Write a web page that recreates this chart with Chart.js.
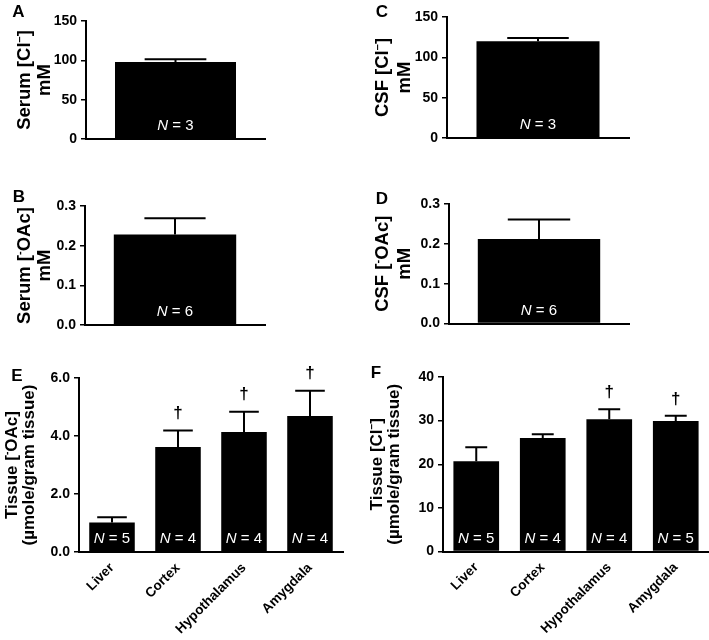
<!DOCTYPE html>
<html>
<head>
<meta charset="utf-8">
<script src="https://cdn.jsdelivr.net/npm/chart.js@4.4.0/dist/chart.umd.min.js"></script>
<style>
  body { margin: 0; background: #fff; }
  #wrap { position: relative; width: 709px; height: 640px; }
  canvas { position: absolute; }
</style>
</head>
<body>
<div id="wrap">
  <canvas id="cA" width="355" height="160" style="left:0;top:0"></canvas>
  <canvas id="cB" width="355" height="180" style="left:0;top:160px"></canvas>
  <canvas id="cC" width="354" height="160" style="left:355px;top:0"></canvas>
  <canvas id="cD" width="354" height="180" style="left:355px;top:160px"></canvas>
  <canvas id="cE" width="355" height="300" style="left:0;top:340px"></canvas>
  <canvas id="cF" width="354" height="300" style="left:355px;top:340px"></canvas>
</div>
<script>
// serum / csf (single bar each)
const serumCl = [98];      const serumClErr = [3.5];    const serumClN = [3];
const serumOAc = [0.228];  const serumOAcErr = [0.041]; const serumOAcN = [6];
const csfCl = [120];       const csfClErr = [4];        const csfClN = [3];
const csfOAc = [0.212];    const csfOAcErr = [0.049];   const csfOAcN = [6];

// tissues
const tissues = ['Liver', 'Cortex', 'Hypothalamus', 'Amygdala'];
const tissueOAc = [1.02, 3.62, 4.14, 4.69];
const tissueOAcErr = [0.18, 0.57, 0.70, 0.87];
const tissueOAcN = [5, 4, 4, 4];
const tissueOAcSig = [false, true, true, true];
const tissueCl = [20.7, 26.0, 30.3, 29.9];
const tissueClErr = [3.2, 0.9, 2.3, 1.2];
const tissueClN = [5, 4, 4, 5];
const tissueClSig = [false, false, true, true];

// tick labels
const ticksCl = ['0', '50', '100', '150'];
const ticksOAc = ['0.0', '0.1', '0.2', '0.3'];
const ticksTissueOAc = ['0.0', '2.0', '4.0', '6.0'];
const ticksTissueCl = ['0', '10', '20', '30', '40'];

const FONT = '"Liberation Sans", Arial, sans-serif';
Chart.defaults.font.family = FONT;
Chart.defaults.color = '#000';

const decor = {
  id: 'decor',
  afterDatasetsDraw(chart, args, o) {
    const ctx = chart.ctx, y = chart.scales.y;
    const vals = chart.data.datasets[0].data;
    ctx.save();
    chart.getDatasetMeta(0).data.forEach((bar, i) => {
      const top = y.getPixelForValue(vals[i] + o.err[i]);
      const half = bar.width * o.cap / 2;
      ctx.strokeStyle = '#000';
      ctx.lineWidth = 2;
      ctx.beginPath();
      ctx.moveTo(bar.x, bar.y);
      ctx.lineTo(bar.x, top);
      ctx.moveTo(bar.x - half, top);
      ctx.lineTo(bar.x + half, top);
      ctx.stroke();

      // N = x, white inside bar
      const a = 'N', b = ' = ' + o.n[i];
      ctx.font = 'italic 15px ' + FONT;
      const wa = ctx.measureText(a).width;
      ctx.font = '15px ' + FONT;
      const wb = ctx.measureText(b).width;
      const x0 = bar.x - (wa + wb) / 2, ny = y.bottom - 13;
      ctx.fillStyle = '#fff';
      ctx.textAlign = 'left';
      ctx.textBaseline = 'middle';
      ctx.font = 'italic 15px ' + FONT;
      ctx.fillText(a, x0, ny);
      ctx.font = '15px ' + FONT;
      ctx.fillText(b, x0 + wa, ny);

      if (o.sig && o.sig[i]) {
        ctx.fillStyle = '#000';
        ctx.textAlign = 'center';
        ctx.font = 'bold 17px ' + FONT;
        ctx.fillText('\u2020', bar.x, top - 17);
      }
    });
    ctx.restore();
  },
  afterDraw(chart, args, o) {
    const ctx = chart.ctx, area = chart.chartArea;
    ctx.save();
    ctx.fillStyle = '#000';
    ctx.font = 'bold 17px ' + FONT;
    ctx.textAlign = 'center';
    ctx.textBaseline = 'middle';
    ctx.fillText(o.letter, o.lx, o.ly);

    const cy = (area.top + area.bottom) / 2;
    const size = o.titleSize;
    o.titles.forEach(t => {
      ctx.save();
      ctx.translate(t.x, cy);
      ctx.rotate(-Math.PI / 2);
      let total = 0;
      t.parts.forEach(p => {
        ctx.font = 'bold ' + (p.sup ? size * 0.6 : size) + 'px ' + FONT;
        p.w = ctx.measureText(p.s).width;
        total += p.w;
      });
      let x = -total / 2;
      ctx.textAlign = 'left';
      t.parts.forEach(p => {
        ctx.font = 'bold ' + (p.sup ? size * 0.6 : size) + 'px ' + FONT;
        ctx.fillText(p.s, x, p.sup ? -size * 0.3 : 0);
        x += p.w;
      });
      ctx.restore();
    });
    ctx.restore();
  }
};
Chart.register(decor);

function makePanel(id, labels, values, tickLabels, p) {
  const maxV = parseFloat(tickLabels[tickLabels.length - 1]);
  return new Chart(document.getElementById(id), {
    type: 'bar',
    data: {
      labels: labels,
      datasets: [{
        data: values,
        backgroundColor: '#000',
        borderWidth: 0,
        barPercentage: p.barPct,
        categoryPercentage: 1
      }]
    },
    options: {
      responsive: false,
      animation: false,
      layout: { padding: { left: 0, top: p.top, right: p.right, bottom: 0 } },
      plugins: {
        legend: { display: false },
        tooltip: { enabled: false },
        decor: {
          err: p.err, n: p.n, sig: p.sig, cap: p.cap,
          letter: p.letter, lx: p.lx, ly: p.ly,
          titles: p.titles, titleSize: p.titleSize
        }
      },
      scales: {
        x: {
          grid: { display: false, drawTicks: false },
          border: { display: true, color: '#000', width: 2 },
          ticks: {
            display: p.xTicks,
            maxRotation: 45, minRotation: 45,
            padding: 8,
            font: { size: 13.5, weight: 'bold' },
            color: '#000'
          },
          afterFit: s => { s.height = p.xHeight; }
        },
        y: {
          min: 0, max: maxV,
          grid: { display: true, drawOnChartArea: false, drawTicks: true, tickLength: 5, color: '#000', lineWidth: 1.5 },
          border: { display: true, color: '#000', width: 2 },
          ticks: {
            padding: 4,
            font: { size: 14, weight: 'bold' },
            color: '#000',
            callback: (v, i) => tickLabels[i]
          },
          afterBuildTicks: s => { s.ticks = tickLabels.map(t => ({ value: parseFloat(t) })); },
          afterFit: s => { s.width = p.yWidth; }
        }
      }
    }
  });
}

const mM = [{ s: 'mM' }];

makePanel('cA', [''], serumCl, ticksCl, {
  err: serumClErr, n: serumClN, cap: 0.51, barPct: 0.676,
  top: 21, right: 90, xHeight: 21, yWidth: 86, xTicks: false,
  letter: 'A', lx: 18.5, ly: 12.5, titleSize: 18.5,
  titles: [{ x: 25, parts: [{ s: 'Serum [Cl' }, { s: '\u2013', sup: true }, { s: ']' }] }, { x: 45, parts: mM }]
});
makePanel('cB', [''], serumOAc, ticksOAc, {
  err: serumOAcErr, n: serumOAcN, cap: 0.5, barPct: 0.68,
  top: 46, right: 90, xHeight: 15, yWidth: 85, xTicks: false,
  letter: 'B', lx: 19, ly: 37, titleSize: 18.5,
  titles: [{ x: 25, parts: [{ s: 'Serum [' }, { s: '-', sup: true }, { s: 'OAc]' }] }, { x: 45, parts: mM }]
});
makePanel('cC', [''], csfCl, ticksCl, {
  err: csfClErr, n: csfClN, cap: 0.5, barPct: 0.676,
  top: 17, right: 80, xHeight: 22, yWidth: 92, xTicks: false,
  letter: 'C', lx: 27, ly: 12, titleSize: 18.5,
  titles: [{ x: 28, parts: [{ s: 'CSF [Cl' }, { s: '\u2013', sup: true }, { s: ']' }] }, { x: 50, parts: mM }]
});
makePanel('cD', [''], csfOAc, ticksOAc, {
  err: csfOAcErr, n: csfOAcN, cap: 0.51, barPct: 0.68,
  top: 44, right: 80, xHeight: 16.5, yWidth: 94, xTicks: false,
  letter: 'D', lx: 27, ly: 39, titleSize: 18.5,
  titles: [{ x: 28, parts: [{ s: 'CSF [' }, { s: '-', sup: true }, { s: 'OAc]' }] }, { x: 50, parts: mM }]
});
makePanel('cE', tissues, tissueOAc, ticksTissueOAc, {
  err: tissueOAcErr, n: tissueOAcN, sig: tissueOAcSig, cap: 0.65, barPct: 0.69,
  top: 38, right: 12, xHeight: 88, yWidth: 79, xTicks: true,
  letter: 'E', lx: 17, ly: 36, titleSize: 17,
  titles: [{ x: 12, parts: [{ s: 'Tissue [' }, { s: '-', sup: true }, { s: 'OAc]' }] }, { x: 29, parts: [{ s: '(\u00b5mole/gram tissue)' }] }]
});
makePanel('cF', tissues, tissueCl, ticksTissueCl, {
  err: tissueClErr, n: tissueClN, sig: tissueClSig, cap: 0.48, barPct: 0.687,
  top: 37, right: 0, xHeight: 88.5, yWidth: 88, xTicks: true,
  letter: 'F', lx: 21, ly: 33, titleSize: 17,
  titles: [{ x: 22, parts: [{ s: 'Tissue [Cl' }, { s: '\u2013', sup: true }, { s: ']' }] }, { x: 39, parts: [{ s: '(\u00b5mole/gram tissue)' }] }]
});
</script>
</body>
</html>
